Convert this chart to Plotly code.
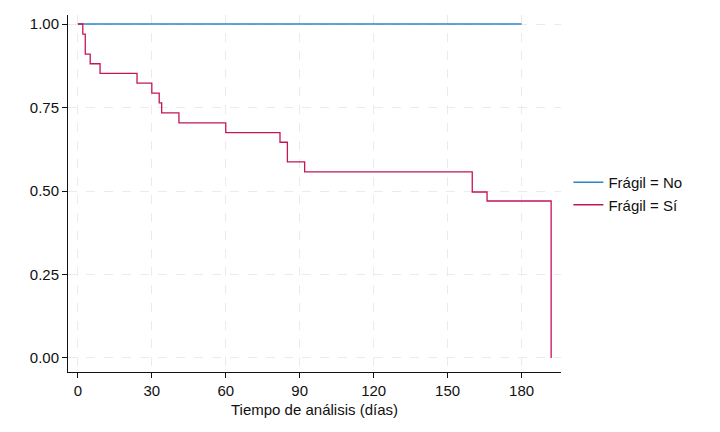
import plotly.graph_objects as go

# Kaplan-Meier estimates
no_time = [0, 180]
no_surv = [1.0, 1.0]

si_time = [0, 2, 3, 5, 9, 24, 30, 33, 34, 41, 60, 82, 85, 92, 160, 166, 192, 192]
si_surv = [1.0, 0.970, 0.910, 0.881, 0.852, 0.823, 0.793, 0.764, 0.734, 0.704, 0.675, 0.646, 0.587, 0.557, 0.497, 0.470, 0.470, 0.0]

x_ticks = [0, 30, 60, 90, 120, 150, 180]
y_ticks = [0, 0.25, 0.5, 0.75, 1.0]
y_labels = ["0.00", "0.25", "0.50", "0.75", "1.00"]

font = "Liberation Sans, Arial, sans-serif"

fig = go.Figure()
fig.add_trace(go.Scatter(x=no_time, y=no_surv, mode="lines", line_shape="hv",
                         line=dict(color="#2a86c8", width=1.3), name="Frágil = No"))
fig.add_trace(go.Scatter(x=si_time, y=si_surv, mode="lines", line_shape="hv",
                         line=dict(color="#c4145a", width=1.3), name="Frágil = Sí"))

fig.update_layout(
    width=720, height=432,
    margin=dict(l=68, r=159, t=15, b=60),
    paper_bgcolor="white", plot_bgcolor="white",
    font=dict(family=font, size=15, color="#111"),
    legend=dict(x=1.015, y=0.5, xanchor="left", yanchor="middle",
                font=dict(size=15), tracegroupgap=0, itemwidth=30,
                bgcolor="rgba(0,0,0,0)"),
)
fig.update_xaxes(
    range=[-4, 196], tickvals=x_ticks, ticks="outside", ticklen=5, tickcolor="#111",
    showline=True, linecolor="#111", linewidth=1, mirror=False,
    showgrid=True, gridcolor="#ebebeb", griddash="dash", gridwidth=1,
    zeroline=False, title=dict(text="Tiempo de análisis (días)", font=dict(size=15), standoff=6),
    tickfont=dict(size=15),
)
fig.update_yaxes(
    range=[-0.042, 1.027], tickvals=y_ticks, ticktext=y_labels, ticks="outside", ticklen=5,
    tickcolor="#111", showline=True, linecolor="#111", linewidth=1,
    showgrid=True, gridcolor="#ebebeb", griddash="dash", gridwidth=1,
    zeroline=False, tickfont=dict(size=15),
)

fig.write_html("out.html")
